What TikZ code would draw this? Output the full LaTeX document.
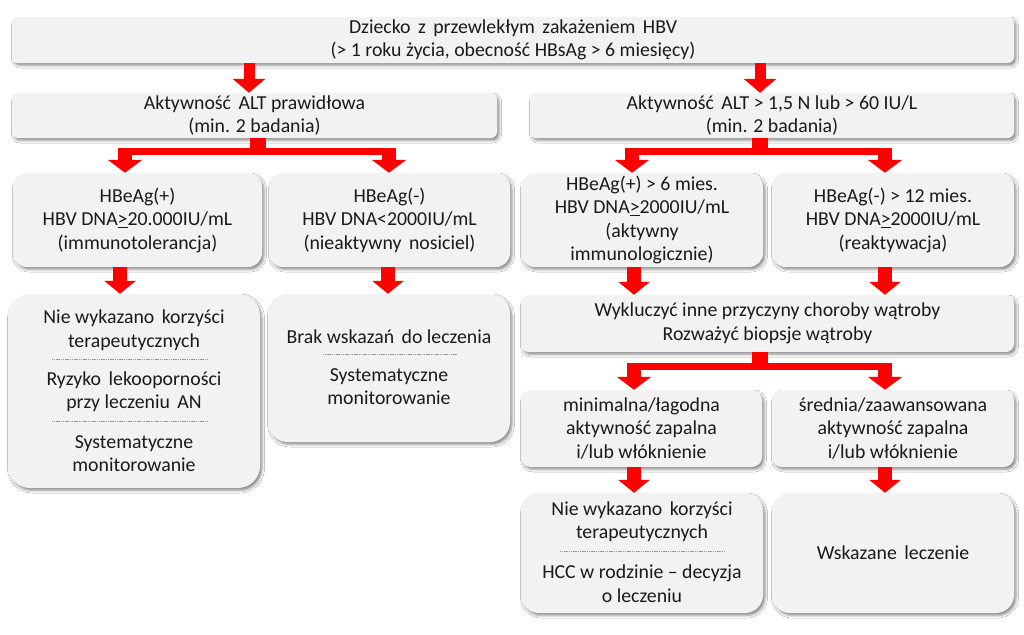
\documentclass[tikz,border=0pt]{standalone}
\usepackage{fontspec}
\setmainfont{Carlito}
\usetikzlibrary{arrows.meta,shadows.blur,calc}
\definecolor{boxgray}{HTML}{F2F2F2}
\definecolor{textc}{HTML}{1A1A1A}
\definecolor{arrred}{HTML}{FF0000}
\newcommand\wsp{\ \hspace{3pt}}
\begin{document}
\begin{tikzpicture}[x=1pt,y=-1pt,
  box/.style={fill=boxgray, draw=none, rounded corners=#1, inner sep=0pt,
    align=center, text=textc, font=\fontsize{19.8}{23.5}\selectfont,
    blur shadow={shadow xshift=2pt, shadow yshift=-2.5pt, shadow blur radius=2.5pt, shadow opacity=45}},
  box/.default=6pt,
  txt/.style={align=center, inner sep=0pt, text=textc, font=\fontsize{19.8}{23.5}\selectfont},
  seprule/.style={draw=gray!80, line width=0.6pt, dash pattern=on 1.2pt off 0.6pt},
  arr/.style={draw=arrred, line width=11pt, -{Triangle[width=32pt,length=14pt]}},
  arrb/.style={draw=arrred, line width=14pt, -{Triangle[width=31pt,length=13pt]}},
  stem/.style={draw=arrred, line width=16pt},
  bar/.style={draw=arrred, line width=7pt},
  drop/.style={draw=arrred, line width=14pt, -{Triangle[width=34pt,length=13pt]}}
]
\useasboundingbox (0,0) rectangle (1024,634);
\fill[white] (0,0) rectangle (1024,634);

% boxes
\node[box=6pt, minimum width=1002pt, minimum height=46pt] (T) at (513,40)
  {Dziecko\wsp z\wsp przewlekłym\wsp zakażeniem\wsp HBV\\(> 1 roku życia, obecność HBsAg > 6 miesięcy)};
\node[box=6pt, minimum width=485pt, minimum height=45pt] (L2) at (254.5,115.5)
  {Aktywność\wsp ALT prawidłowa\\(min. 2 badania)};
\node[box=6pt, minimum width=484pt, minimum height=45pt] (R2) at (772,115.5)
  {Aktywność\wsp ALT > 1,5 N lub > 60 IU/L\\(min. 2 badania)};

\node[box=14pt, minimum width=249pt, minimum height=94pt] (L3a) at (137.5,220)
  {HBeAg(+)\\HBV DNA\underline{>}20.000IU/mL\\(immunotolerancja)};
\node[box=14pt, minimum width=241pt, minimum height=94pt] (L3b) at (389.5,220)
  {HBeAg(-)\\HBV DNA<2000IU/mL\\(nieaktywny\wsp nosiciel)};
\node[box=14pt, minimum width=242pt, minimum height=94pt] (R3a) at (642,220)
  {HBeAg(+) > 6 mies.\\HBV DNA\underline{>}2000IU/mL\\(aktywny\\immunologicznie)};
\node[box=14pt, minimum width=242pt, minimum height=94pt] (R3b) at (893,220)
  {HBeAg(-) > 12 mies.\\HBV DNA\underline{>}2000IU/mL\\(reaktywacja)};

\node[box=22pt, minimum width=252pt, minimum height=194pt] (L4a) at (134,391) {};
\node[txt] (L4a1) at (134,330) {Nie wykazano\wsp korzyści\\terapeutycznych};
\node[txt] (L4a2) at (134,391.5) {Ryzyko\wsp lekooporności\\przy leczeniu\wsp AN};
\node[txt] (L4a3) at (134,453.5) {Systematyczne\\monitorowanie};
\draw[seprule] (52,359) -- (207,359);
\draw[seprule] (52,421) -- (207,421);

\node[box=20pt, minimum width=242pt, minimum height=148pt] (L4b) at (389,368) {};
\node[txt] (L4b1) at (389,337) {Brak wskazań\wsp do leczenia};
\node[txt] (L4b2) at (389,386.5) {Systematyczne\\monitorowanie};
\draw[seprule] (323,354) -- (457,354);

\node[box=8pt, minimum width=493pt, minimum height=57pt] (R4) at (767.5,323.5)
  {Wykluczyć inne przyczyny choroby wątroby\\Rozważyć biopsje wątroby};

\node[box=10pt, minimum width=241pt, minimum height=77pt] (R5a) at (641.5,428.5)
  {minimalna/łagodna\\aktywność zapalna\\i/lub włóknienie};
\node[box=10pt, minimum width=242pt, minimum height=77pt] (R5b) at (893,428.5)
  {średnia/zaawansowana\\aktywność zapalna\\i/lub włóknienie};

\node[box=18pt, minimum width=242pt, minimum height=120pt] (R6a) at (642,553) {};
\node[txt] (R6a1) at (642,521.5) {Nie wykazano\wsp korzyści\\terapeutycznych};
\node[txt] (R6a2) at (642,583.5) {HCC w rodzinie – decyzja\\o leczeniu};
\draw[seprule] (560,551) -- (724,551);
\node[box=18pt, minimum width=242pt, minimum height=120pt] (R6b) at (893,553)
  {Wskazane\wsp leczenie};

% x positions of connectors
\coordinate (xa1) at (249,0);
\coordinate (xa2) at (760,0);
\coordinate (xsL) at (258,0);
\coordinate (xdL1) at (125,0);
\coordinate (xdL2) at (389,0);
\coordinate (xsR) at (760,0);
\coordinate (xdR1) at (632,0);
\coordinate (xdR2) at (885,0);
\coordinate (xbL1) at (120,0);
\coordinate (xbL2) at (388,0);
\coordinate (xbR1) at (634,0);
\coordinate (xbR2) at (885,0);
\coordinate (yb1) at (0,151);
\coordinate (yb2) at (0,366);

% simple arrows
\draw[arr] (T.south -| xa1) -- (L2.north -| xa1);
\draw[arr] (T.south -| xa2) -- (R2.north -| xa2);

% split from L2
\draw[stem] (L2.south -| xsL) -- (yb1 -| xsL);
\draw[bar] ($(yb1 -| xdL1)+(-7,0)$) -- ($(yb1 -| xdL2)+(7,0)$);
\draw[drop] ($(yb1 -| xdL1)+(0,-3)$) -- (L3a.north -| xdL1);
\draw[drop] ($(yb1 -| xdL2)+(0,-3)$) -- (L3b.north -| xdL2);

% split from R2
\draw[stem] (R2.south -| xsR) -- (yb1 -| xsR);
\draw[bar] ($(yb1 -| xdR1)+(-7,0)$) -- ($(yb1 -| xdR2)+(7,0)$);
\draw[drop] ($(yb1 -| xdR1)+(0,-3)$) -- (R3a.north -| xdR1);
\draw[drop] ($(yb1 -| xdR2)+(0,-3)$) -- (R3b.north -| xdR2);

% row 3 -> row 4
\draw[arrb] (L3a.south -| xbL1) -- (L4a.north -| xbL1);
\draw[arrb] (L3b.south -| xbL2) -- (L4b.north -| xbL2);
\draw[arrb] (R3a.south -| xbR1) -- (R4.north -| xbR1);
\draw[arrb] (R3b.south -| xbR2) -- (R4.north -| xbR2);

% split from R4
\draw[stem] (R4.south -| xsR) -- (yb2 -| xsR);
\draw[bar] ($(yb2 -| xbR1)+(-7,0)$) -- ($(yb2 -| xbR2)+(7,0)$);
\draw[drop] ($(yb2 -| xbR1)+(0,-3)$) -- (R5a.north -| xbR1);
\draw[drop] ($(yb2 -| xbR2)+(0,-3)$) -- (R5b.north -| xbR2);

% row 5 -> row 6
\draw[arrb] (R5a.south -| xbR1) -- (R6a.north -| xbR1);
\draw[arrb] (R5b.south -| xbR2) -- (R6b.north -| xbR2);
\end{tikzpicture}
\end{document}
